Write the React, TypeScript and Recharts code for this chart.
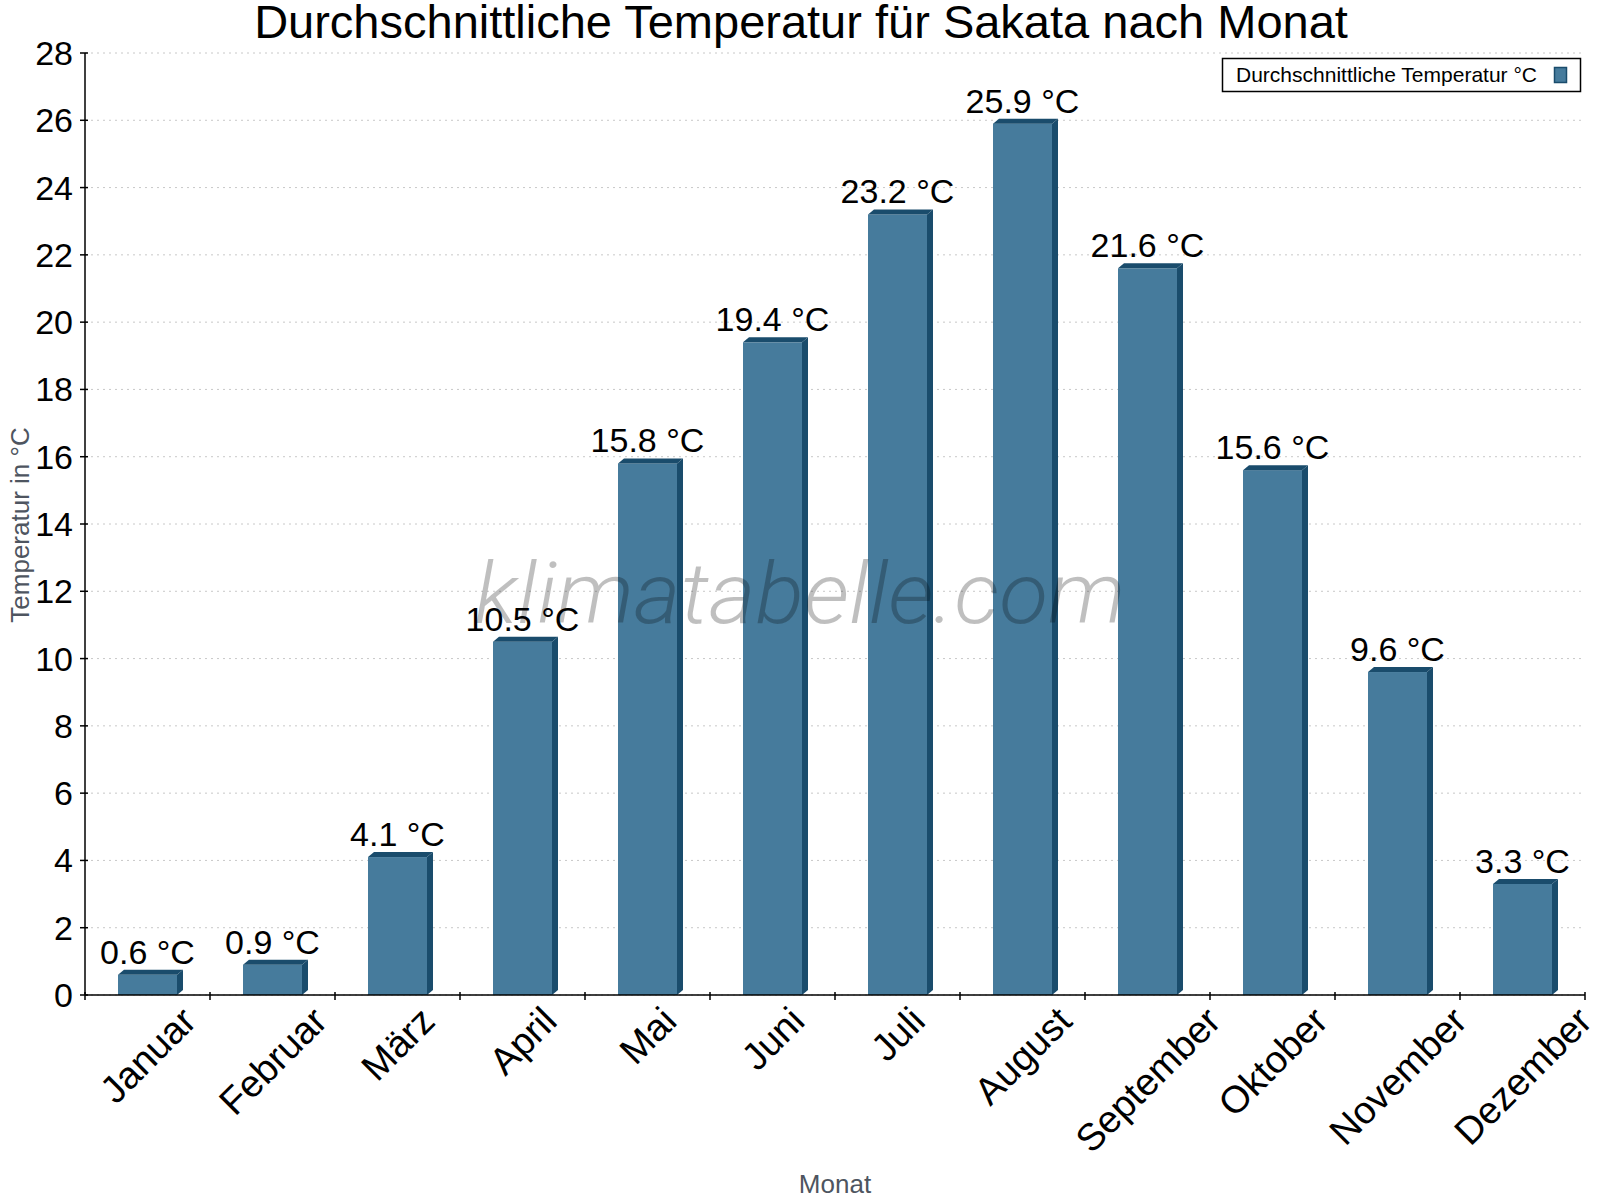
import React from "react";
import {
  BarChart,
  Bar,
  XAxis,
  YAxis,
  CartesianGrid,
  LabelList,
} from "recharts";

const months = [
  "Januar",
  "Februar",
  "März",
  "April",
  "Mai",
  "Juni",
  "Juli",
  "August",
  "September",
  "Oktober",
  "November",
  "Dezember",
];
const avgTemp = [0.6, 0.9, 4.1, 10.5, 15.8, 19.4, 23.2, 25.9, 21.6, 15.6, 9.6, 3.3];
const tempTicks = [0, 2, 4, 6, 8, 10, 12, 14, 16, 18, 20, 22, 24, 26, 28];

const data = months.map((month, i) => ({ month, temp: avgTemp[i] }));

const W = 1600;
const H = 1200;
const FONT = '"Liberation Sans", Arial, Helvetica, sans-serif';
const FRONT = "#467b9c";
const SIDE = "#1a4c6c";
const AXIS_GREY = "#4e5560";
const TICK_FONT = 34;
const MONTH_FONT = 38;
const ANGLE = 45;

// text width for the rotated month labels
const widthCache: Record<string, number> = {};
function textWidth(s: string, size: number) {
  const key = s + size;
  if (widthCache[key] != null) return widthCache[key];
  let w = s.length * size * 0.52;
  try {
    const ctx = document.createElement("canvas").getContext("2d");
    if (ctx) {
      ctx.font = `${size}px "Liberation Sans", Arial, sans-serif`;
      w = ctx.measureText(s).width;
    }
  } catch (e) {}
  widthCache[key] = w;
  return w;
}

function Bar3D(props: any) {
  const { x, y, width, height } = props;
  if (height == null || height <= 0) return null;
  const dx = 6;
  const dy = 5;
  return (
    <g>
      <rect x={x} y={y} width={width} height={height} fill={FRONT} />
      <polygon
        points={`${x},${y} ${x + dx},${y - dy} ${x + width + dx},${y - dy} ${x + width},${y}`}
        fill={SIDE}
      />
      <polygon
        points={`${x + width},${y} ${x + width + dx},${y - dy} ${x + width + dx},${y + height - dy} ${x + width},${y + height}`}
        fill={SIDE}
      />
    </g>
  );
}

function ValueLabel(props: any) {
  const { x, y, width, value } = props;
  return (
    <text
      x={x + width / 2}
      y={y - 11}
      textAnchor="middle"
      fontSize={34}
      fontFamily={FONT}
      fill="#000"
    >
      {`${Number(value).toFixed(1)} °C`}
    </text>
  );
}

function TempTick(props: any) {
  const { x, y, payload } = props;
  return (
    <g>
      <line x1={x - 5} x2={x + 3} y1={y} y2={y} stroke="#000" strokeWidth={1.5} />
      <text x={x - 12} y={y + 12} textAnchor="end" fontSize={TICK_FONT} fontFamily={FONT} fill="#000">
        {payload.value}
      </text>
    </g>
  );
}

function MonthTick(props: any) {
  const { x, y, payload, index } = props;
  const half = payload.offset ?? 62.5;
  const label = String(payload.value);
  const L = textWidth(label, MONTH_FONT);
  const cap = MONTH_FONT * 0.716;
  const rad = (ANGLE * Math.PI) / 180;
  const ax = x + (L * Math.cos(rad) + cap * Math.sin(rad)) / 2;
  const ay = y + 9 + cap * Math.cos(rad);
  return (
    <g>
      <line x1={x - half} x2={x - half} y1={y - 3} y2={y + 5} stroke="#000" strokeWidth={1.5} />
      {index === months.length - 1 && (
        <line x1={x + half} x2={x + half} y1={y - 3} y2={y + 5} stroke="#000" strokeWidth={1.5} />
      )}
      <text
        x={ax}
        y={ay}
        transform={`rotate(${-ANGLE} ${ax} ${ay})`}
        textAnchor="end"
        fontSize={MONTH_FONT}
        fontFamily={FONT}
        fill="#000"
      >
        {label}
      </text>
    </g>
  );
}

export default function App() {
  return (
    <div style={{ position: "absolute", left: 0, top: 0, width: W, height: H, background: "#fff" }}>
      <BarChart
        width={W}
        height={H}
        data={data}
        margin={{ top: 53, right: 15, bottom: 0, left: 0 }}
        barSize={59}
      >
        <CartesianGrid vertical={false} stroke="#c8c8c8" strokeDasharray="2 4" />
        <XAxis
          dataKey="month"
          height={205}
          interval={0}
          tickSize={0}
          tickMargin={0}
          tickLine={false}
          axisLine={{ stroke: "#000", strokeWidth: 1.5 }}
          tick={<MonthTick />}
        />
        <YAxis
          width={85}
          domain={[0, 28]}
          ticks={tempTicks}
          interval={0}
          tickSize={0}
          tickMargin={0}
          tickLine={false}
          axisLine={{ stroke: "#000", strokeWidth: 1.5 }}
          tick={<TempTick />}
        />
        <YAxis
          yAxisId="right"
          orientation="right"
          width={0}
          domain={[0, 28]}
          tick={false}
          tickLine={false}
          axisLine={{ stroke: "#000", strokeWidth: 1.5 }}
        />
        <Bar dataKey="temp" shape={<Bar3D />} isAnimationActive={false}>
          <LabelList dataKey="temp" content={<ValueLabel />} />
        </Bar>
      </BarChart>

      <svg
        width={W}
        height={H}
        style={{ position: "absolute", left: 0, top: 0, pointerEvents: "none" }}
      >
        <text x={801} y={38} textAnchor="middle" fontSize={47} fontFamily={FONT} fill="#000">
          Durchschnittliche Temperatur für Sakata nach Monat
        </text>

        <text
          x={800}
          y={623}
          textAnchor="middle"
          fontSize={86}
          fontStyle="italic"
          fontWeight={300}
          fontFamily='Roboto, Lato, "Open Sans", sans-serif'
          fill="rgba(0,0,0,0.25)"
          textLength={651}
          lengthAdjust="spacingAndGlyphs"
        >
          klimatabelle.com
        </text>

        <text
          x={29}
          y={525}
          transform="rotate(-90 29 525)"
          textAnchor="middle"
          fontSize={26}
          fontFamily={FONT}
          fill={AXIS_GREY}
        >
          Temperatur in °C
        </text>
        <text x={835} y={1193} textAnchor="middle" fontSize={26} fontFamily={FONT} fill={AXIS_GREY}>
          Monat
        </text>

        <rect x={1222.5} y={58.5} width={358} height={33} fill="#fff" stroke="#000" strokeWidth={1.5} />
        <text x={1236} y={82} fontSize={21} fontFamily={FONT} fill="#000">
          Durchschnittliche Temperatur °C
        </text>
        <rect x={1554.5} y={67.5} width={12} height={15} fill={FRONT} stroke={SIDE} strokeWidth={1.5} />
      </svg>
    </div>
  );
}
